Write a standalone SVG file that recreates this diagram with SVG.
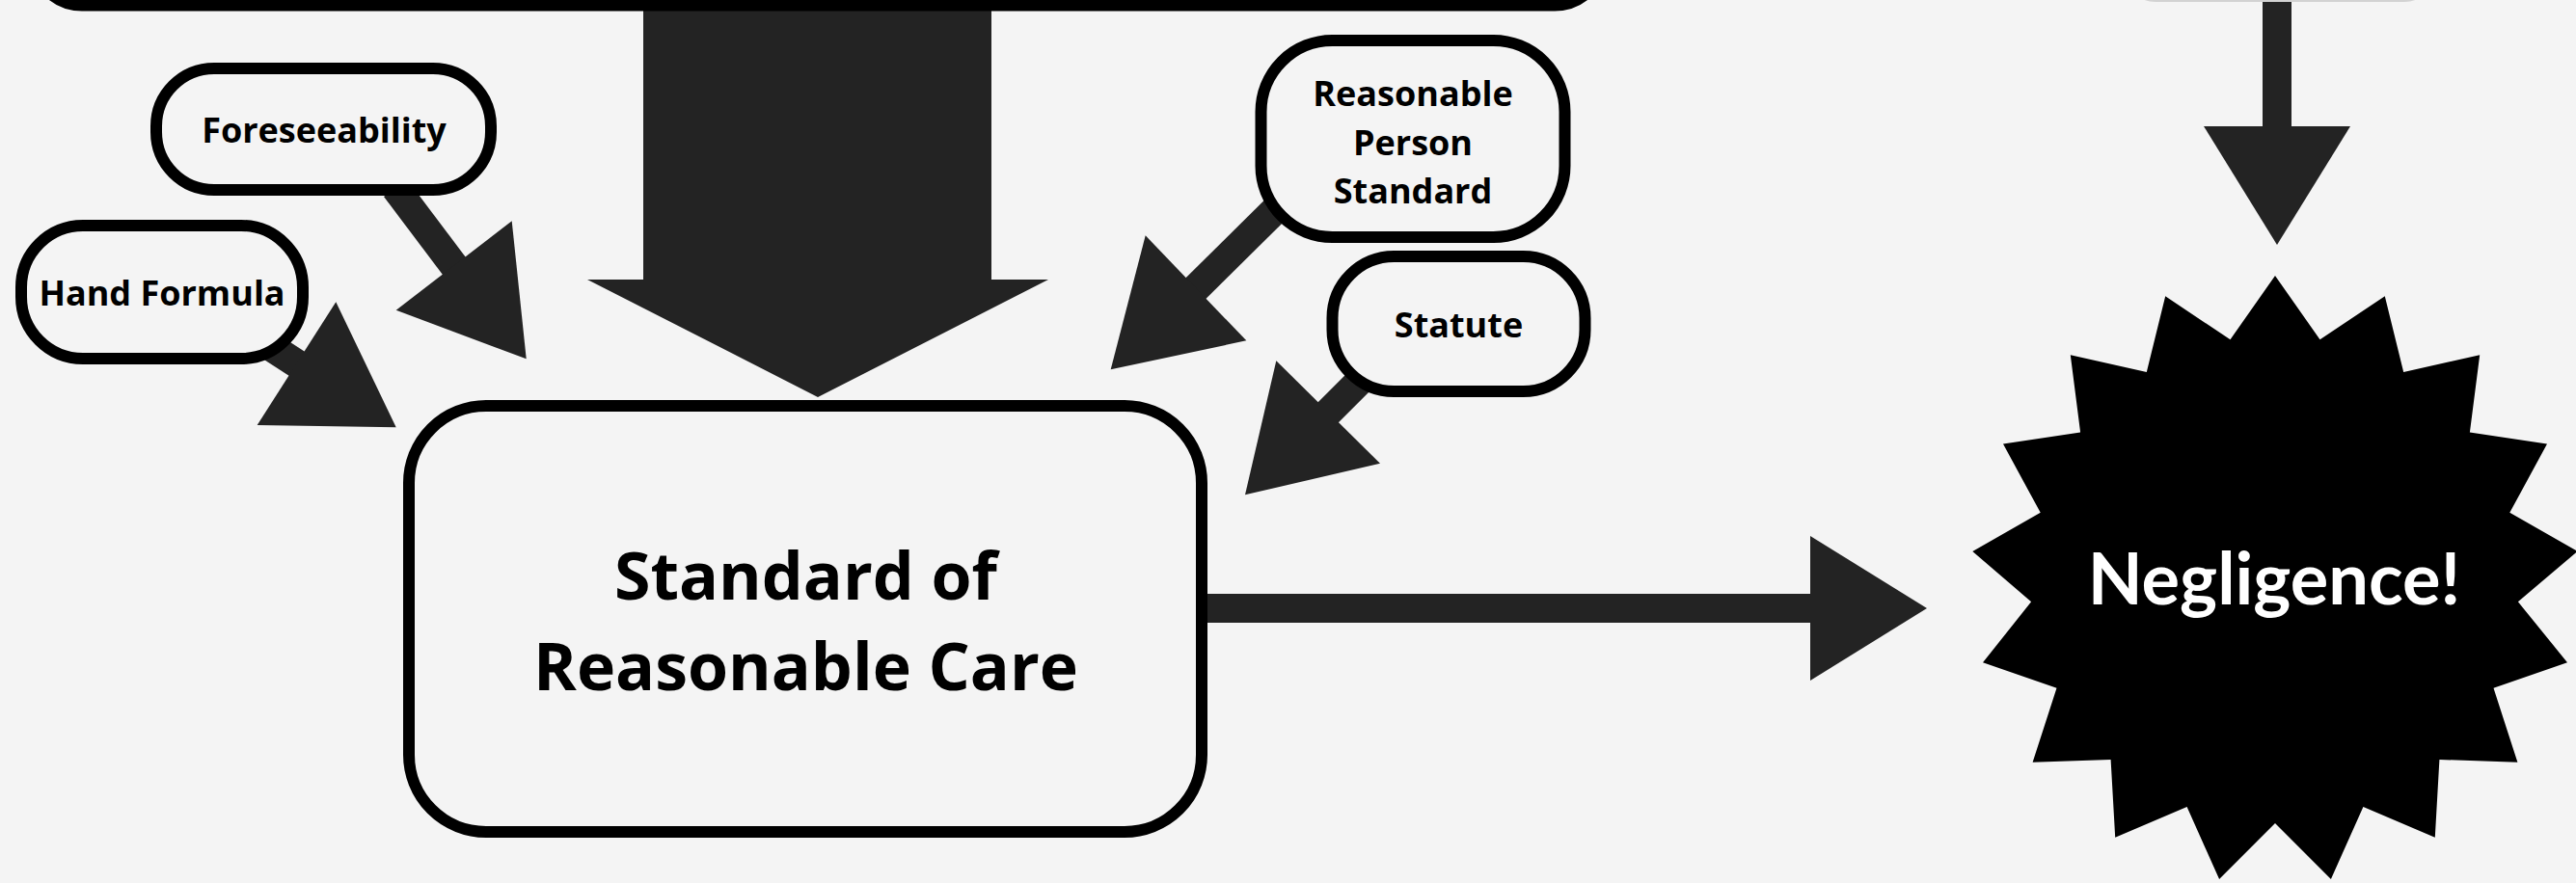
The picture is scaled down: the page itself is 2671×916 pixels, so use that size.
<svg xmlns="http://www.w3.org/2000/svg" width="2671" height="916" viewBox="0 0 2671 916">
<style>
.box{fill:#f4f4f4;stroke:#000;stroke-width:12}
.lbl{font-family:"Open Sans","Liberation Sans",sans-serif;font-weight:700;font-size:36px;fill:#000;text-anchor:middle}
.big{font-size:68px}
.shaft{stroke:#232323;stroke-width:30;fill:none}
.head{fill:#232323}
</style>
<rect width="2671" height="916" fill="#f4f4f4"/>
<g id="connectors">
<polygon class="head" points="667,5 1028,5 1028,290 1087,290 848,412 609,290 667,290"/>
<rect class="head" x="1240" y="616" width="640" height="30"/>
<polygon class="head" points="1877,556 1998,631 1877,706"/>
<rect class="head" x="2346" y="-2" width="30" height="136"/>
<polygon class="head" points="2285,131 2437,131 2361,254"/>
<line class="shaft" x1="410" y1="195" x2="474" y2="280"/>
<polygon class="head" points="530.7,229.3 545.7,372.3 410.7,321.7"/>
<line class="shaft" x1="249" y1="339" x2="312" y2="380"/>
<polygon class="head" points="348.3,313.3 410.7,443.3 266.7,441"/>
<line class="shaft" x1="1330" y1="210" x2="1236" y2="303"/>
<polygon class="head" points="1187.7,244.3 1151.7,383.3 1292.3,353.3"/>
<line class="shaft" x1="1430" y1="375" x2="1373" y2="432"/>
<polygon class="head" points="1323.3,374.3 1291,513.3 1431,480.7"/>
</g>
<g id="top-box">
<rect class="box" x="35" y="-300" width="1627" height="305.5" rx="50"/>
</g>
<g id="top-right-box">
<rect x="2205" y="-100" width="318" height="100.5" rx="30" fill="#f4f4f4" stroke="#d2d2d2" stroke-width="3"/>
</g>
<g id="foreseeability">
<rect class="box" x="162" y="71" width="347" height="126" rx="60"/>
<text class="lbl" x="336" y="147.7">Foreseeability</text>
</g>
<g id="hand-formula">
<rect class="box" x="22" y="234" width="292" height="138" rx="64"/>
<text class="lbl" x="168" y="317">Hand Formula</text>
</g>
<g id="reasonable-person">
<rect class="box" x="1307.5" y="42" width="315" height="204" rx="74"/>
<text class="lbl" x="1465" y="110">Reasonable</text>
<text class="lbl" x="1465" y="161">Person</text>
<text class="lbl" x="1465" y="210.7">Standard</text>
</g>
<g id="statute">
<rect class="box" x="1381.5" y="266" width="262" height="140" rx="64"/>
<text class="lbl" x="1512.5" y="350">Statute</text>
</g>
<g id="standard-of-care">
<rect class="box" x="424" y="421" width="822" height="442" rx="80"/>
<text class="lbl big" x="835.5" y="621.5">Standard of</text>
<text class="lbl big" x="835.5" y="716">Reasonable Care</text>
</g>
<g id="negligence">
<polygon fill="#000" points="2359,286 2405.5,352.3 2472.8,307.3 2492.2,385.9 2571.2,368.2 2560.9,448.5 2641,460.6 2602.3,531.8 2672.7,571.9 2610.9,624.3 2662,687.2 2585.5,713.8 2610.4,790.8 2529.4,788 2524.8,868.8 2450.4,836.9 2416.9,912 2359,854 2301.1,912 2267.6,836.9 2193.2,868.8 2188.6,788 2107.6,790.8 2132.5,713.8 2056,687.2 2106.1,624.3 2045.3,571.9 2115.7,531.8 2077,460.6 2157.1,448.5 2146.8,368.2 2225.8,385.9 2245.2,307.3 2312.5,352.3"/>
<text x="2358" y="627" text-anchor="middle" font-family="Lato,'Open Sans','Liberation Sans',sans-serif" font-weight="700" font-size="74" fill="#fff">Negligence!</text>
</g>
</svg>
